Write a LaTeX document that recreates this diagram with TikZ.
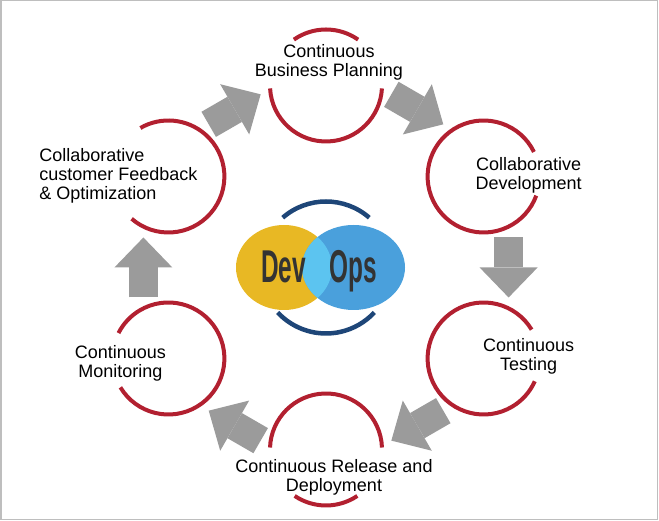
\documentclass[tikz,border=0pt]{standalone}
\usepackage[dvipsnames]{xcolor}
\usepackage{fontspec}
\setmainfont{Liberation Sans}
\usetikzlibrary{arrows.meta}

\definecolor{ringred}{RGB}{178,32,48}
\definecolor{arrowgray}{RGB}{155,155,155}
\definecolor{opsyellow}{RGB}{232,184,36}
\definecolor{opsblue}{RGB}{74,160,220}
\definecolor{opscyan}{RGB}{92,196,240}
\definecolor{swooshblue}{RGB}{30,70,120}
\definecolor{wordgray}{RGB}{51,51,51}
\definecolor{framegray}{RGB}{190,190,190}

\begin{document}
\begin{tikzpicture}[x=1pt,y=1pt,
    stage/.style={circle,minimum size=112pt,inner sep=0pt,outer sep=0pt},
    ring/.style={draw=ringred,line width=4pt},
    stage text/.style={align=center,font=\fontsize{18}{19}\selectfont},
    flow/.style={arrowgray,line width=29pt,shorten <=5pt,shorten >=5pt,
        -{Triangle[length=30pt,width=58pt,line width=0pt]}},
    swoosh/.style={draw=swooshblue,line width=4.5pt}]

            \useasboundingbox (0,0) rectangle (659,521);
            \draw[framegray,line width=1.5pt] (0.75,1.5) rectangle (657.5,520.25);

            % logo in the middle
            \node[circle,minimum size=132pt,inner sep=0pt,outer sep=0pt] (logo) at (326,253.5) {};
            \fill[opsyellow] ([xshift=-42pt]logo.center) ellipse [x radius=48,y radius=42.5];
            \fill[opsblue] ([xshift=27.5pt]logo.center) ellipse [x radius=51.5,y radius=42.5];
            \begin{scope}
                \clip ([xshift=-42pt]logo.center) ellipse [x radius=48,y radius=42.5];
                \fill[opscyan] ([xshift=27.5pt]logo.center) ellipse [x radius=51.5,y radius=42.5];
            \end{scope}
            \draw[swoosh] (logo.49) arc[start angle=49,end angle=131,radius=66];
            \draw[swoosh] (logo.223) arc[start angle=223,end angle=317,radius=66];
            \node[anchor=base,text=wordgray,font=\fontsize{46}{46}\selectfont\bfseries] (word)
                at ([shift={(-7,-15.5)}]logo.center) {\scalebox{0.53}[1]{Dev\hspace{44pt}Ops}};

            % the six stages
            \node[stage] (plan) at ([shift={(90:182)}]logo.center) {};
            \node[stage] (dev)  at ([shift={(30:182)}]logo.center) {};
            \node[stage] (test) at ([shift={(-30:182)}]logo.center) {};
            \node[stage] (rel)  at ([shift={(-90:182)}]logo.center) {};
            \node[stage] (mon)  at ([shift={(-150:182)}]logo.center) {};
            \node[stage] (fb)   at ([shift={(150:182)}]logo.center) {};

            \draw[ring] (plan.183) arc[start angle=183,end angle=357,radius=56];
            \draw[ring] (plan.55) arc[start angle=55,end angle=125,radius=56];
            \draw[ring] (dev.26) arc[start angle=26,end angle=340,radius=56];
            \draw[ring] (test.31) arc[start angle=31,end angle=336,radius=56];
            \draw[ring] (rel.2) arc[start angle=2,end angle=178,radius=56];
            \draw[ring] (rel.236) arc[start angle=236,end angle=304,radius=56];
            \draw[ring] (mon.-149) arc[start angle=-149,end angle=153,radius=56];
            \draw[ring] (fb.-131) arc[start angle=-131,end angle=120,radius=56];

            \node[stage text] (plan text) at ([shift={(3,23.5)}]plan.center) {Continuous\\Business Planning};
            \node[stage text] (dev text)  at ([shift={(45,1.5)}]dev.center) {Collaborative\\Development};
            \node[stage text] (test text) at ([shift={(45,2)}]test.center) {Continuous\\Testing};
            \node[stage text] (rel text)  at ([shift={(8,-27.5)}]rel.center) {Continuous Release and\\Deployment};
            \node[stage text] (mon text)  at ([shift={(-48,-5)}]mon.center) {Continuous\\Monitoring};
            \node[stage text,align=left] (fb text) at ([shift={(-50,1)}]fb.center) {Collaborative\\customer Feedback\\\& Optimization};

            \path[flow]
                (fb) edge[transform canvas={shift={(120:25)}}] (plan)
                (plan) edge[transform canvas={shift={(60:25)}}] (dev)
                (dev) edge[transform canvas={shift={(0:25)}}] (test)
                (test) edge[transform canvas={shift={(-60:25)}}] (rel)
                (rel) edge[transform canvas={shift={(-120:25)}}] (mon)
                (mon) edge[transform canvas={shift={(180:25)}}] (fb)
            ;
        \end{tikzpicture}
\end{document}
